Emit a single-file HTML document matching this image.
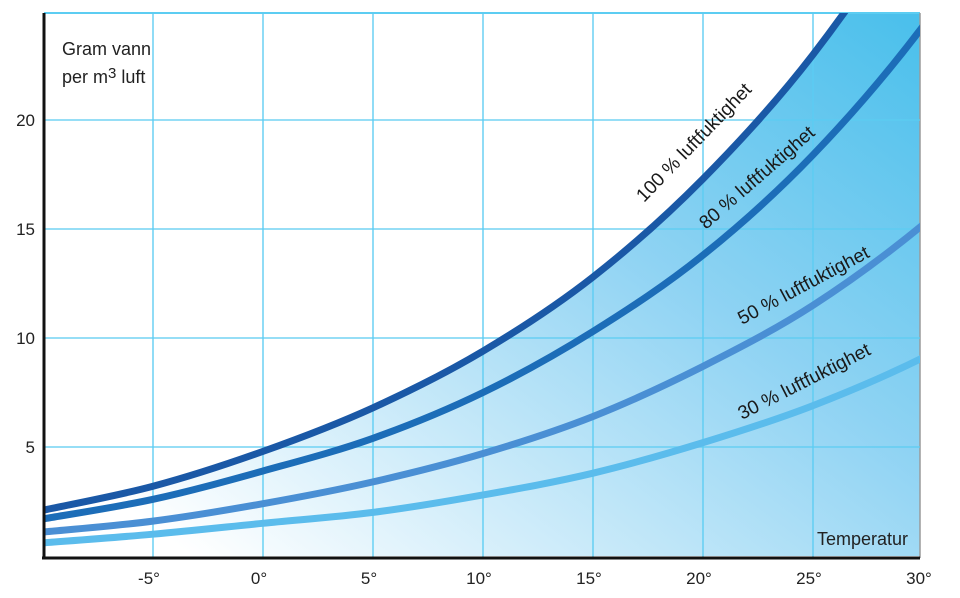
<!DOCTYPE html>
<html><head><meta charset="utf-8"><style>
body{margin:0;background:#fff}
svg{display:block;font-family:"Liberation Sans",sans-serif}
</style></head><body>
<svg id="chart" width="960" height="598" viewBox="0 0 960 598">
<defs>
<linearGradient id="fillGrad" x1="0.15" y1="1" x2="0.95" y2="0.05">
<stop offset="0" stop-color="#ffffff"/>
<stop offset="0.45" stop-color="#8fd3f3"/>
<stop offset="1" stop-color="#16b1e6"/>
</linearGradient>
<clipPath id="plotClip"><rect x="44" y="13" width="876" height="545"/></clipPath>
</defs>
<g id="fillLayer" clip-path="url(#plotClip)"></g>
<g id="gridLayer"></g>
<g id="curveLayer" clip-path="url(#plotClip)"></g>
<g id="labelLayer"></g>
<g id="axisLayer"></g>
</svg>
<script>
const temps = [-10,-5,0,5,10,15,20,25,30,35];
const sat100 = [2.1,3.2,4.8,6.8,9.4,12.8,17.3,23.0,30.4,39.6];
const sat80 = [1.7,2.6,3.9,5.4,7.5,10.3,13.8,18.4,24.3,31.7];
const sat50 = [1.1,1.6,2.4,3.4,4.7,6.4,8.7,11.5,15.2,19.8];
const sat30 = [0.6,1.0,1.5,2.0,2.8,3.8,5.2,6.9,9.1,11.9];
const xTicks = [-5,0,5,10,15,20,25,30];
const xTickLabels = ["-5°","0°","5°","10°","15°","20°","25°","30°"];
const yTicks = [5,10,15,20];
const yTickLabels = ["5","10","15","20"];

const NS="http://www.w3.org/2000/svg";
const X=t=>43+(t+10)*22;
const Y=v=>556-v*21.8;
function mk(tag,attrs,parent){const e=document.createElementNS(NS,tag);for(const k in attrs)e.setAttribute(k,attrs[k]);parent.appendChild(e);return e;}
function pathFor(vals){
  const pts=[];
  for(let i=0;i<temps.length;i++){pts.push([X(temps[i]),Y(vals[i])]);}
  let d="M"+pts[0][0]+","+pts[0][1];
  for(let i=0;i<pts.length-1;i++){
    const p0=pts[Math.max(0,i-1)],p1=pts[i],p2=pts[i+1],p3=pts[Math.min(pts.length-1,i+2)];
    const c1=[p1[0]+(p2[0]-p0[0])/6,p1[1]+(p2[1]-p0[1])/6];
    const c2=[p2[0]-(p3[0]-p1[0])/6,p2[1]-(p3[1]-p1[1])/6];
    d+=" C"+c1[0]+","+c1[1]+" "+c2[0]+","+c2[1]+" "+p2[0]+","+p2[1];
  }
  return d;
}
const fillL=document.getElementById('fillLayer');
const gridL=document.getElementById('gridLayer');
const curveL=document.getElementById('curveLayer');
const labelL=document.getElementById('labelLayer');
const axisL=document.getElementById('axisLayer');

const area=mk('path',{d:pathFor(sat100)+" L"+X(35)+","+Y(0)+" L"+X(-10)+","+Y(0)+" Z",fill:"url(#fillGrad)"},fillL);



const topBorder=mk('line',{x1:44,y1:13,x2:920,y2:13,stroke:"#5ccdf2","stroke-width":2},gridL);


const rightBorder=mk('line',{x1:920,y1:13,x2:920,y2:558,stroke:"#9a9a9a","stroke-width":1.5},gridL);


xTicks.forEach((t,i)=>{
  if(t<30){
  const g=mk('line',{x1:X(t),y1:13,x2:X(t),y2:558,stroke:"#5ccdf2","stroke-width":1.6,"stroke-opacity":0.85},gridL);
  
  }
  const lb=mk('text',{x:X(t)-4,y:584,"text-anchor":"middle","font-size":17,fill:"#222"},axisL);
  lb.textContent=xTickLabels[i];
  
  
});
yTicks.forEach((v,i)=>{
  const g=mk('line',{x1:44,y1:Y(v),x2:920,y2:Y(v),stroke:"#5ccdf2","stroke-width":1.6,"stroke-opacity":0.85},gridL);
  
  
  const lb=mk('text',{x:35,y:Y(v)+6,"text-anchor":"end","font-size":17,fill:"#222"},axisL);
  lb.textContent=yTickLabels[i];
  
  
});

const series=[[sat30,"#5bbcec","curve-30"],[sat50,"#4a8fd4","curve-50"],[sat80,"#1c6db8","curve-80"],[sat100,"#1a58a6","curve-100"]];
series.forEach(s=>{
  const p=mk('path',{d:pathFor(s[0]),fill:"none",stroke:s[1],"stroke-width":7},curveL);
  
  
});

const labels=[["100 % luftfuktighet",644,203,-46,"label-100"],["80 % luftfuktighet",706,230,-41,"label-80"],["50 % luftfuktighet",742,325,-28,"label-50"],["30 % luftfuktighet",742,420,-27,"label-30"]];
labels.forEach(l=>{
  const t=mk('text',{x:l[1],y:l[2],"font-size":19,fill:"#1a1a1a",transform:"rotate("+l[3]+" "+l[1]+" "+l[2]+")"},labelL);
  t.textContent=l[0];
  
  
});

const ya=mk('line',{x1:44,y1:13,x2:44,y2:559,stroke:"#111","stroke-width":3},axisL);


const xa=mk('line',{x1:42,y1:558,x2:920,y2:558,stroke:"#111","stroke-width":3},axisL);



const yt=mk('text',{x:62,y:55,"font-size":18,fill:"#222"},axisL);
yt.textContent="Gram vann";


const yt2=mk('text',{x:62,y:83,"font-size":18,fill:"#222"},axisL);
const ts1=mk('tspan',{},yt2); ts1.textContent="per m";
const ts2=mk('tspan',{dy:-5,"font-size":15},yt2); ts2.textContent="3";
const ts3=mk('tspan',{dy:5},yt2); ts3.textContent=" luft";


const xt=mk('text',{x:908,y:545,"text-anchor":"end","font-size":18,fill:"#222"},axisL);
xt.textContent="Temperatur";


</script>
</body></html>
